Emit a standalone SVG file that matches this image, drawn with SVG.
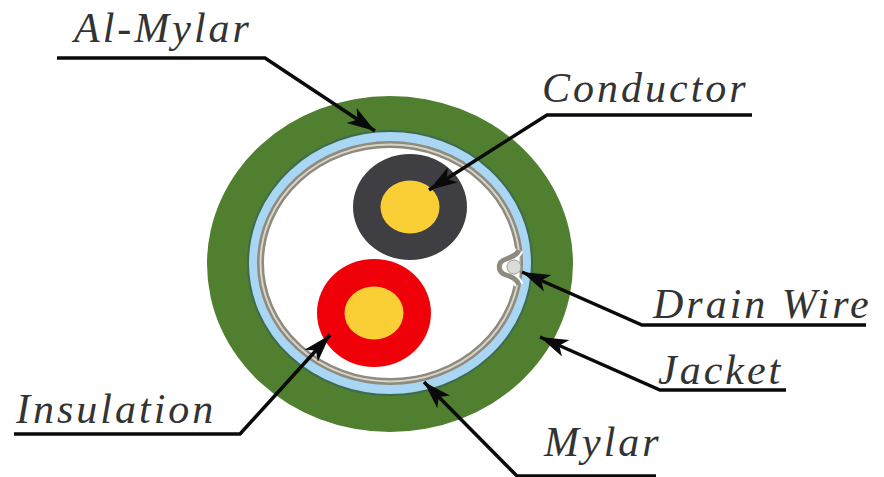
<svg xmlns="http://www.w3.org/2000/svg" width="884" height="477" viewBox="0 0 884 477">
<defs>
<marker id="arrow" markerUnits="userSpaceOnUse" markerWidth="30" markerHeight="20" refX="28" refY="10" orient="auto">
<path d="M0 1 L28 10 L0 19 L7 10 Z" fill="#0a0a0a"/>
</marker>
</defs>
<style>
text{font-family:"Liberation Serif",serif;font-style:italic;font-size:42px;fill:#333;letter-spacing:3px}
.lead{fill:none;stroke:#0a0a0a;stroke-width:3.5;marker-end:url(#arrow)}
</style>
<rect width="884" height="477" fill="#fff"/>
<g id="cable">
<ellipse id="jacket" cx="390" cy="264" rx="183" ry="168" fill="#4f7f2f"/>
<ellipse id="al-mylar" cx="390" cy="263" rx="142" ry="132" fill="#a9d6f2" stroke="#3d6b50" stroke-width="2"/>
<ellipse id="mylar" cx="390" cy="263" rx="129.500" ry="118.500" fill="#fff" stroke="#8f8a7e" stroke-width="7"/>
<ellipse cx="390" cy="263" rx="129.500" ry="118.500" fill="none" stroke="#d8d4c8" stroke-width="2"/>
</g>
<g id="drain-wire">
<path d="M519 250 C517 255 512 257 506 259 C497 262 497 272 506 275 C512 277 517 279 519 285" fill="#fff" stroke="#fff" stroke-width="9"/>
<path d="M519 250 C517 255 512 257 506 259 C497 262 497 272 506 275 C512 277 517 279 519 285" fill="#fff" stroke="#8f8a7e" stroke-width="5"/>
<ellipse cx="514" cy="267" rx="7" ry="7" fill="#dcdcd6" stroke="#999" stroke-width="1"/>
</g>
<g id="conductor-wire">
<ellipse cx="410" cy="207" rx="57" ry="53" fill="#3f3f43"/>
<ellipse cx="410" cy="207" rx="29.500" ry="26.500" fill="#f9cf35"/>
</g>
<g id="insulated-wire">
<ellipse cx="374" cy="313" rx="57" ry="54" fill="#f00008"/>
<ellipse cx="374" cy="313" rx="29.500" ry="26.500" fill="#f9cf35"/>
</g>
<g id="connectors">
<path class="lead" d="M57 58 L265 58 L375 131"/>
<path class="lead" d="M752 115 L547 115 L429 190"/>
<path class="lead" d="M866 325 L642 325 L522 272"/>
<path class="lead" d="M786 390 L660 390 L540 337"/>
<path class="lead" d="M14 434 L240 434 L330 335"/>
<path class="lead" d="M656 476 L517 476 L424 382"/>
</g>
<g id="labels">
<text x="74" y="42">Al-Mylar</text>
<text x="542" y="102">Conductor</text>
<text x="653" y="318">Drain Wire</text>
<text x="658" y="384">Jacket</text>
<text x="16" y="423">Insulation</text>
<text x="544" y="456">Mylar</text>
</g>
</svg>
